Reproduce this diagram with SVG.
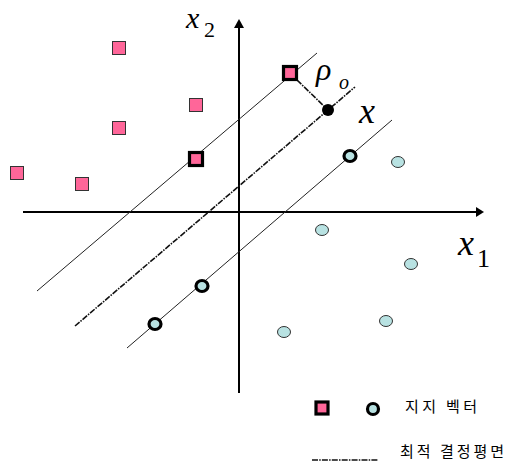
<svg xmlns="http://www.w3.org/2000/svg" width="507" height="463" viewBox="0 0 507 463">
<defs>
<style>
.sq{fill:#FF6699;stroke:#333;stroke-width:1}
.ssq{fill:#FF6699;stroke:#000;stroke-width:3.2}
.ci{fill:#B8E2E2;stroke:#333;stroke-width:1}
.sci{fill:#B8E2E2;stroke:#000;stroke-width:3.2}
.ax{stroke:#000;stroke-width:2;fill:none}
.mg{stroke:#222;stroke-width:1;fill:none}
.hp{stroke:#111;stroke-width:1.6;fill:none;stroke-dasharray:6 1.2 1.5 1.2}
.lab{font-family:"Liberation Serif","Times New Roman",serif;font-style:italic;fill:#000}
.sub{font-family:"Liberation Serif","Times New Roman",serif;fill:#000}
.kr{font-family:"Noto Sans CJK KR","Noto Sans",sans-serif;font-size:15px;fill:#000}
</style>
</defs>
<rect width="507" height="463" fill="#fff"/>
<g id="connectors">
<line class="ax" x1="23" y1="212" x2="480" y2="212"/>
<path d="M476,207 L484,212 L476,217 z" fill="#000"/>
<line class="ax" x1="239" y1="393" x2="239" y2="25"/>
<path d="M234,28 L239,19 L244,28 z" fill="#000"/>
<line class="mg" x1="37" y1="291" x2="317" y2="53"/>
<line class="mg" x1="127" y1="348" x2="392" y2="120"/>
<line class="hp" x1="75" y1="326" x2="355" y2="87"/>
<line class="hp" x1="297" y1="80" x2="328" y2="110"/>
</g>
<g id="class1">
<rect class="sq" x="112.5" y="41.5" width="13" height="13"/>
<rect class="sq" x="189.5" y="98.5" width="13" height="13"/>
<rect class="sq" x="112.5" y="121.5" width="13" height="13"/>
<rect class="sq" x="10.5" y="166.5" width="13" height="13"/>
<rect class="sq" x="75.5" y="177.5" width="13" height="13"/>
</g>
<g id="sv1">
<rect class="ssq" x="189.5" y="152.5" width="13" height="13"/>
<rect class="ssq" x="283.5" y="66.5" width="13" height="13"/>
</g>
<g id="class2">
<ellipse class="ci" cx="398" cy="162" rx="6.5" ry="5.5"/>
<ellipse class="ci" cx="322" cy="230" rx="6.5" ry="5.5"/>
<ellipse class="ci" cx="411" cy="264" rx="6.5" ry="5.5"/>
<ellipse class="ci" cx="386" cy="321" rx="6.5" ry="5.5"/>
<ellipse class="ci" cx="284" cy="332" rx="6.5" ry="5.5"/>
</g>
<g id="sv2">
<ellipse class="sci" cx="350" cy="156" rx="6" ry="5.5"/>
<ellipse class="sci" cx="202" cy="286" rx="6" ry="5.5"/>
<ellipse class="sci" cx="155" cy="324" rx="6" ry="5.5"/>
</g>
<g id="point-x">
<circle cx="328" cy="110" r="6" fill="#000"/>
<text class="lab" x="359" y="123" font-size="36">x</text>
</g>
<g id="rho">
<text class="lab" x="316" y="80" font-size="32">ρ</text>
<text class="lab" x="339" y="89" font-size="20">o</text>
</g>
<g id="axis-labels">
<text class="lab" x="186" y="28" font-size="30">x</text>
<text class="sub" x="204" y="37" font-size="22">2</text>
<text class="lab" x="458" y="255" font-size="36">x</text>
<text class="sub" x="477" y="267" font-size="26">1</text>
</g>
<g id="legend">
<rect class="ssq" x="316" y="402" width="12" height="12"/>
<circle class="sci" cx="373" cy="409" r="5.5"/>
<text class="kr" x="405" y="412" textLength="72" lengthAdjust="spacing">지지 벡터</text>
<line class="hp" x1="312" y1="460" x2="378" y2="460"/>
<text class="kr" x="400" y="457" textLength="104" lengthAdjust="spacing">최적 결정평면</text>
</g>
</svg>
